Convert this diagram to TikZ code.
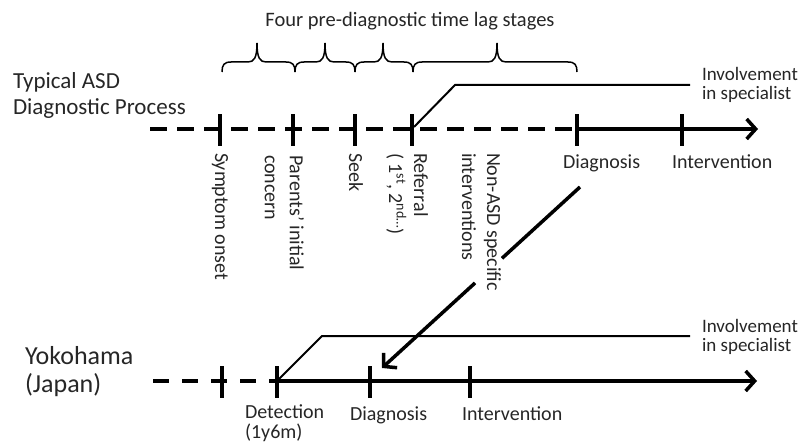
\documentclass[tikz,border=0pt]{standalone}
\usepackage{fontspec}
\setmainfont{Carlito}
\usetikzlibrary{arrows.meta,calc}
\newcommand{\tlbrace}[3]{\draw[bracestyle] (#1,72) .. controls (#1,65) and (#1+2,62) .. (#1+9,62) -- (#3-9,62) .. controls (#3-3,62) and (#3,58) .. (#3,43) .. controls (#3,58) and (#3+3,62) .. (#3+9,62) -- (#2-9,62) .. controls (#2-2,62) and (#2,65) .. (#2,72);}
\begin{document}
\begin{tikzpicture}[x=1pt,y=-1pt,
  every node/.style={inner sep=0pt, outer sep=0pt, text=black!85},
  lbl/.style={font=\fontsize{20}{22}\selectfont, anchor=base west},
  vlbl/.style={font=\fontsize{20}{25}\selectfont, rotate=-90, anchor=north west, align=left},
  invlbl/.style={font=\fontsize{19}{18.5}\selectfont, align=left, anchor=west},
  dashline/.style={line width=4pt, dash pattern=on 17pt off 10pt},
  dashlineb/.style={line width=4pt, dash pattern=on 16pt off 13pt},
  solidline/.style={line width=3.5pt},
  tickmark/.style={line width=3.5pt},
  inv/.style={line width=2pt},
  bracestyle/.style={line width=1.5pt},
  barb/.style={-{Straight Barb[length=9pt,width=20pt]}}
]
\useasboundingbox (0,0) rectangle (809,444);
% title and braces
\node[font=\fontsize{20.5}{22}\selectfont, anchor=base] (title) at (410,27) {Four pre-diagnostic time lag stages};
\tlbrace{222}{295}{257}
\tlbrace{295}{355}{325}
\tlbrace{355}{413}{383}
\tlbrace{413}{577}{497}
% row labels
\node[font=\fontsize{23}{26}\selectfont, align=left, anchor=north west] (typ) at (13,73) {Typical ASD\\Diagnostic Process};
\node[font=\fontsize{26}{28}\selectfont, align=left, anchor=north west] (yok) at (25,346) {Yokohama\\(Japan)};
% top timeline
\coordinate (a0) at (150,129);
\coordinate (a5) at (577,129);
\coordinate (aend) at (758,129);
\draw[dashline] (a0) -- (a5);
\draw[solidline, barb] (a5) -- (aend);
\foreach \x in {220,293,355,412,577,682} \draw[tickmark] (\x,114) -- (\x,146);
% involvement top
\coordinate (i1) at (414,127);
\coordinate (i2) at (455,85);
\coordinate (i3) at (690,85);
\draw[inv] (i1) -- (i2) -- (i3);
\node[invlbl] (inv1) at (702,85) {Involvement\\in specialist};
% rotated labels
\node[vlbl] (sym) at (228,153) {Symptom onset};
\node[vlbl] (par) at (304,155) {Parents’ initial\\concern};
\node[vlbl] (seek) at (363,153) {Seek};
\node[vlbl] (ref) at (428,153) {Referral\\( 1\textsuperscript{st}, 2\textsuperscript{nd…})};
\node[vlbl] (non) at (501,153) {Non-ASD specific\\interventions};
\node[lbl] (diag1) at (563,168) {Diagnosis};
\node[lbl] (int1) at (672,168) {Intervention};
% bottom timeline
\coordinate (b0) at (153,381);
\coordinate (b2) at (277,381);
\coordinate (bend) at (757,381);
\draw[dashlineb] (b0) -- (b2);
\draw[solidline, barb] (b2) -- (bend);
\foreach \x in {222,277,370,470} \draw[tickmark] (\x,366) -- (\x,398);
\coordinate (j1) at (279,379);
\coordinate (j2) at (322,336);
\coordinate (j3) at (690,336);
\draw[inv] (j1) -- (j2) -- (j3);
\node[invlbl] (inv2) at (702,337) {Involvement\\in specialist};
\node[font=\fontsize{20}{19.5}\selectfont, align=left, anchor=north west] (det) at (245,405) {Detection\\(1y6m)};
\node[lbl] (diag2) at (350,420) {Diagnosis};
\node[lbl] (int2) at (462,420) {Intervention};
% big diagonal arrow
\coordinate (arrS) at (580,187);
\coordinate (arrE) at (382,368);
\draw[solidline] (arrS) -- ($(arrS)!0.394!(arrE)$);
\draw[solidline, barb] ($(arrS)!0.53!(arrE)$) -- (arrE);
\end{tikzpicture}
\end{document}
